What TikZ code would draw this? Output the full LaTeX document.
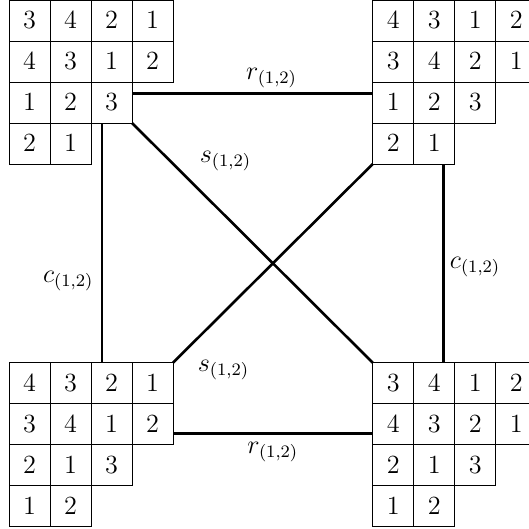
\documentclass[tikz,border=0pt]{standalone}
\usepackage{tikz}
\usetikzlibrary{positioning, calc}

\tikzset{
    cell/.style={draw, minimum size=0.66cm, inner sep=0pt, outer sep=0pt, anchor=north west},
    link/.style={very thick}
}

% one tableau: name, top-left corner, rows of entries
\newcommand{\drawtab}[3]{%
    \foreach \row [count=\i] in {#3} {
        \foreach \val [count=\j] in \row {
            \node[cell] (#1-\i-\j) at ($(#2)+(\j-1,1-\i)$) {$\val$};
        }
    }
}

\begin{document}
\begin{tikzpicture}[x=0.66cm, y=0.66cm, font=\large]

    \useasboundingbox (0,0) rectangle (12.878,-12.902);

    % corners of the four tableaux
    \coordinate (otl) at (0.22,0);
    \coordinate (otr) at (9.09,0);
    \coordinate (obl) at (0.22,-8.846);
    \coordinate (obr) at (9.09,-8.846);

    % tableaux
    \drawtab{tl}{otl}{{3,4,2,1},{4,3,1,2},{1,2,3},{2,1}}
    \drawtab{tr}{otr}{{4,3,1,2},{3,4,2,1},{1,2,3},{2,1}}
    \drawtab{bl}{obl}{{4,3,2,1},{3,4,1,2},{2,1,3},{1,2}}
    \drawtab{br}{obr}{{3,4,1,2},{4,3,2,1},{2,1,3},{1,2}}

    % r moves
    \draw[link] ([yshift=-0.185cm]tl-3-3.north east) -- ([yshift=-0.185cm]tr-3-1.north west)
        node[pos=0.58, above, inner sep=2pt] (rtop) {$r_{(1,2)}$};
    \draw[link] ([yshift=0.183cm]bl-2-4.south east) -- ([yshift=0.183cm]br-2-1.south west)
        node[midway, below, inner sep=3.5pt] (rbot) {$r_{(1,2)}$};

    % c moves
    \draw[link] ([xshift=-0.153cm]tl-3-3.south) -- ([xshift=-0.153cm]bl-1-3.north)
        node[pos=0.66, left] (cleft) {$c_{(1,2)}$};
    \draw[link] ([xshift=0.145cm]tr-4-2.south) -- ([xshift=0.145cm]br-1-2.north)
        node[midway, right, inner sep=2.5pt, yshift=-1.5pt] (cright) {$c_{(1,2)}$};

    % s moves
    \draw[link] (tl-3-3.south east) -- (br-1-1.north west)
        node[pos=0.24, anchor=south west, inner sep=2pt, xshift=2pt, yshift=1.8pt] (stop) {$s_{(1,2)}$};
    \draw[link] (tr-4-1.south west) -- (bl-1-4.north east)
        node[pos=0.926, anchor=north west, inner sep=2pt, xshift=2pt, yshift=-3pt] (sbot) {$s_{(1,2)}$};

\end{tikzpicture}
\end{document}
